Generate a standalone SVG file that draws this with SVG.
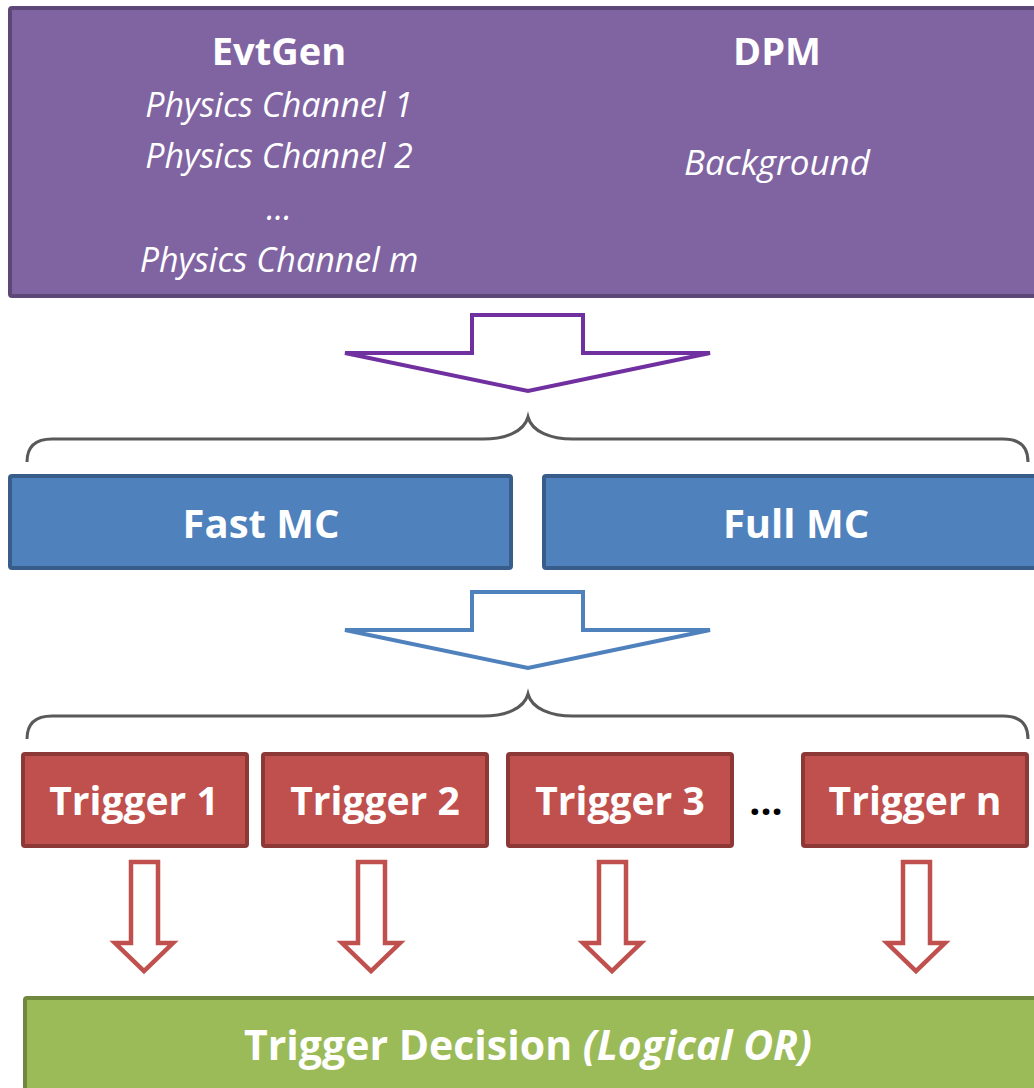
<svg xmlns="http://www.w3.org/2000/svg" width="1034" height="1088" viewBox="0 0 1034 1088">
<style>
.t{font-family:"Open Sans","Noto Sans",sans-serif;fill:#fff;text-anchor:middle}
.b{font-weight:bold}
.i{font-style:italic}
.brace{fill:none;stroke:#595959;stroke-width:3}
.red{fill:#c0504d;stroke:#8c3836;stroke-width:4}
.blue{fill:#4f81bd;stroke:#385d8a;stroke-width:4}
.ra{fill:#fff;stroke:#c0504d;stroke-width:4.5}
</style>
<rect width="1034" height="1088" fill="#fff"/>
<g id="generators">
<rect x="10" y="8" width="1040" height="288" rx="2" fill="#8064a2" stroke="#5c4776" stroke-width="4"/>
<text class="t b" x="279" y="65" font-size="38">EvtGen</text>
<text class="t i" x="279" y="117" font-size="34">Physics Channel 1</text>
<text class="t i" x="279" y="168" font-size="34">Physics Channel 2</text>
<text class="t i" x="279" y="220" font-size="34">...</text>
<text class="t i" x="279" y="272" font-size="34">Physics Channel m</text>
<text class="t b" x="777" y="65" font-size="38">DPM</text>
<text class="t i" x="777" y="175" font-size="35">Background</text>
</g>
<g id="fastmc">
<rect class="blue" x="10" y="476" width="501" height="92" rx="2"/>
<text class="t b" x="261" y="538" font-size="40">Fast MC</text>
</g>
<g id="fullmc">
<rect class="blue" x="544" y="476" width="510" height="92" rx="2"/>
<text class="t b" x="796" y="538" font-size="40">Full MC</text>
</g>
<g id="trigger1">
<rect class="red" x="23" y="754" width="224" height="92" rx="2"/>
<text class="t b" x="134" y="815" font-size="39">Trigger 1</text>
</g>
<g id="trigger2">
<rect class="red" x="263" y="754" width="224" height="92" rx="2"/>
<text class="t b" x="375" y="815" font-size="39">Trigger 2</text>
</g>
<g id="trigger3">
<rect class="red" x="508" y="754" width="224" height="92" rx="2"/>
<text class="t b" x="620" y="815" font-size="39">Trigger 3</text>
</g>
<text class="t b" x="766" y="815" font-size="39" style="fill:#000">...</text>
<g id="triggern">
<rect class="red" x="803" y="754" width="224" height="92" rx="2"/>
<text class="t b" x="915" y="815" font-size="39">Trigger n</text>
</g>
<g id="decision">
<rect x="25" y="998" width="1030" height="110" rx="2" fill="#9bbb59" stroke="#71893f" stroke-width="4"/>
<text class="t b" x="528" y="1060" font-size="41">Trigger Decision <tspan class="i">(Logical OR)</tspan></text>
</g>
<g id="connectors">
<path d="M472,315 L583,315 L583,353 L710,353 L528,391 L345,353 L472,353 Z" fill="#fff" stroke="#7030a0" stroke-width="4"/>
<path class="brace" d="M27,462 C27,447 35,439 52,439 L483,439 C505,439 524,432 528,417 C532,432 551,439 573,439 L1003,439 C1020,439 1028,447 1028,462"/>
<path d="M472,592 L583,592 L583,630 L710,630 L528,668 L345,630 L472,630 Z" fill="#fff" stroke="#4f81bd" stroke-width="4"/>
<path class="brace" d="M27,739 C27,724 35,716 52,716 L483,716 C505,716 524,709 528,694 C532,709 551,716 573,716 L1003,716 C1020,716 1028,724 1028,739"/>
<path class="ra" d="M131,862 L158,862 L158,943 L173,943 L144,971 L115,943 L131,943 Z"/>
<path class="ra" d="M358,862 L385,862 L385,943 L400,943 L371,971 L342,943 L358,943 Z"/>
<path class="ra" d="M599,862 L626,862 L626,943 L641,943 L612,971 L583,943 L599,943 Z"/>
<path class="ra" d="M903,862 L930,862 L930,943 L945,943 L916,971 L887,943 L903,943 Z"/>
</g>
</svg>
